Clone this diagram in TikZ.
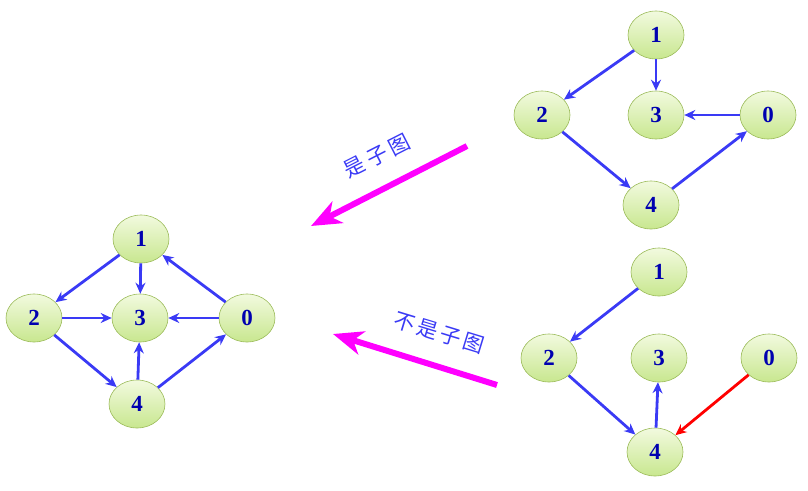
\documentclass[tikz,border=0pt]{standalone}
\usepackage{fontspec}
\setmainfont{Liberation Serif}
\newfontfamily\cjk{Noto Sans CJK SC}
\usepackage{xcolor}
\usepackage{tikz}
\usetikzlibrary{shapes.geometric}
\usetikzlibrary{arrows.meta}

\definecolor{nodeline}{HTML}{9BBB59}
\definecolor{nodetop}{HTML}{F2FADF}
\definecolor{nodebot}{HTML}{C8E78F}
\definecolor{numblue}{HTML}{0000B0}
\definecolor{edgeblue}{HTML}{3A3AF5}
\definecolor{pinkarrow}{RGB}{255,0,255}

\begin{document}
\begin{tikzpicture}[x=1pt,y=-1pt,
    vtx/.style={ellipse,draw=nodeline,semithick,top color=nodetop,bottom color=nodebot,
      minimum width=56pt,minimum height=48pt,inner sep=0pt,
      font=\fontsize{23}{26}\selectfont\bfseries,text=numblue},
    arc/.style={-{Stealth[length=11pt,width=10pt]},line width=2.8pt,draw=edgeblue},
    bigarrow/.style={-{Stealth[length=30pt,width=24pt,inset=9pt]},line width=6pt,draw=pinkarrow},
    tag/.style={font=\cjk\fontsize{21}{24}\selectfont,text=edgeblue}]
  \useasboundingbox (0,0) rectangle (808,490);

  % 原图
  \node[vtx] (a1) at (141,239) {1};
  \node[vtx] (a2) at (34,318) {2};
  \node[vtx] (a3) at (140,318) {3};
  \node[vtx] (a0) at (247,318) {0};
  \node[vtx] (a4) at (137,404) {4};
  \draw[arc] (a1) -- (a2);
  \draw[arc] (a1) -- (a3);
  \draw[arc] (a0) -- (a1);
  \draw[arc] (a2) -- (a3);
  \draw[arc] (a0) -- (a3);
  \draw[arc] (a2) -- (a4);
  \draw[arc] (a4) -- (a3);
  \draw[arc] (a4) -- (a0);

  % 子图
  \node[vtx] (b1) at (656,35) {1};
  \node[vtx] (b2) at (542,115) {2};
  \node[vtx] (b3) at (656,115) {3};
  \node[vtx] (b0) at (768,115) {0};
  \node[vtx] (b4) at (651,205) {4};
  \draw[arc] (b1) -- (b2);
  \draw[arc] (b1) -- (b3);
  \draw[arc] (b0) -- (b3);
  \draw[arc] (b2) -- (b4);
  \draw[arc] (b4) -- (b0);

  % 不是子图
  \node[vtx] (c1) at (659,272) {1};
  \node[vtx] (c2) at (549,358) {2};
  \node[vtx] (c3) at (659,358) {3};
  \node[vtx] (c0) at (769,358) {0};
  \node[vtx] (c4) at (655,452) {4};
  \draw[arc] (c1) -- (c2);
  \draw[arc] (c2) -- (c4);
  \draw[arc] (c4) -- (c3);
  \draw[arc,draw=red] (c0) -- (c4);

  % 箭头与文字
  \coordinate (p1) at (467,146);
  \coordinate (q1) at (311,226);
  \coordinate (p2) at (497,385);
  \coordinate (q2) at (333,334);
  \draw[bigarrow] (p1) -- (q1);
  \draw[bigarrow] (p2) -- (q2);
  \node[tag,rotate=27] (t1) at (377,156) {是\hspace{4pt}子\hspace{4pt}图};
  \node[tag,rotate=-17] (t2) at (439,333) {不\hspace{3pt}是\hspace{3pt}子\hspace{3pt}图};
\end{tikzpicture}
\end{document}
